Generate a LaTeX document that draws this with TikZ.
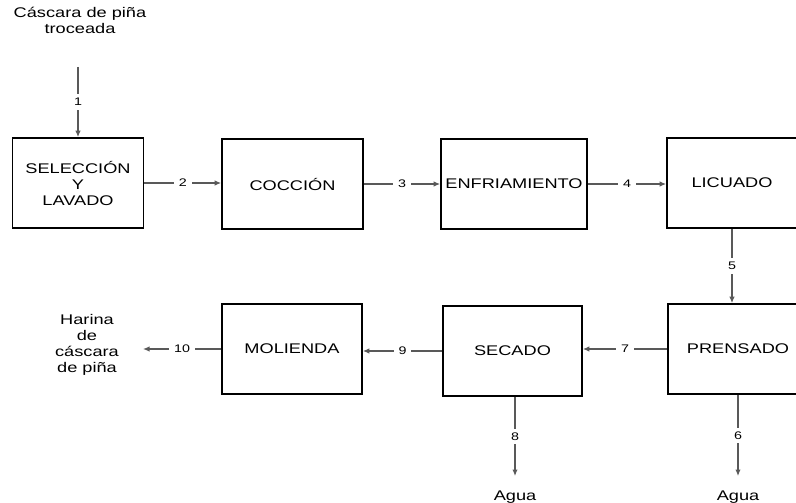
\documentclass[tikz,border=0pt]{standalone}
\usepackage{fontspec}
\setmainfont[FakeStretch=1.3]{Liberation Sans}
\usetikzlibrary{arrows.meta}
\begin{document}
\begin{tikzpicture}[x=1pt,y=-1pt,
  proc/.style={draw=black,line width=1.8pt,minimum height=90pt,inner sep=0pt,
    align=center,font=\fontsize{14}{16}\selectfont},
  txt/.style={align=center,inner sep=0pt,font=\fontsize{14}{16}\selectfont},
  flow/.style={draw=black!65,line width=1.2pt,-{Latex[length=6.5pt,width=5.5pt]}},
  num/.style={fill=white,inner xsep=5pt,inner ysep=4pt,text=black,font=\fontsize{11}{13}\selectfont}]
\useasboundingbox (0,0) rectangle (796,503);
% top row
\node[proc,minimum width=131pt] (sel) at (78,183) {SELECCIÓN\\Y\\LAVADO};
\node[proc,minimum width=141pt] (coc) at (292.5,184) {COCCIÓN};
\node[proc,minimum width=146pt] (enf) at (514,184) {ENFRIAMIENTO};
\node[proc,minimum width=130pt] (lic) at (732,183) {LICUADO};
% bottom row
\node[proc,minimum width=140pt] (pren) at (738,349) {PRENSADO};
\node[proc,minimum width=139pt] (sec) at (512.5,351) {SECADO};
\node[proc,minimum width=140pt] (mol) at (292,349) {MOLIENDA};
% inputs and outputs
\node[txt] (in) at (80,20) {Cáscara de piña\\troceada};
\node[txt] (out) at (87,345) {Harina\\de\\cáscara\\de piña};
\node[txt] (agua1) at (515,497) {Agua};
\node[txt] (agua2) at (738,497) {Agua};
\coordinate (c1) at (78,67);
\coordinate (c10) at (143,349);
\coordinate (c8) at (515,476);
\coordinate (c6) at (738,476);
% connectors
\draw[flow] (c1) -- node[num]{1} (sel.north);
\draw[flow] (sel.east) -- node[num]{2} (sel.east -| coc.west);
\draw[flow] (coc.east) -- node[num]{3} (coc.east -| enf.west);
\draw[flow] (enf.east) -- node[num]{4} (enf.east -| lic.west);
\draw[flow] (lic.south) -- node[num]{5} (lic.south |- pren.north);
\draw[flow] (pren.west) -- node[num]{7} (pren.west -| sec.east);
\draw[flow] (sec.west) -- node[num]{9} (sec.west -| mol.east);
\draw[flow] (mol.west) -- node[num]{10} (c10);
\draw[flow] (sec.south -| c8) -- node[num]{8} (c8);
\draw[flow] (pren.south) -- node[num]{6} (c6);
\end{tikzpicture}
\end{document}
